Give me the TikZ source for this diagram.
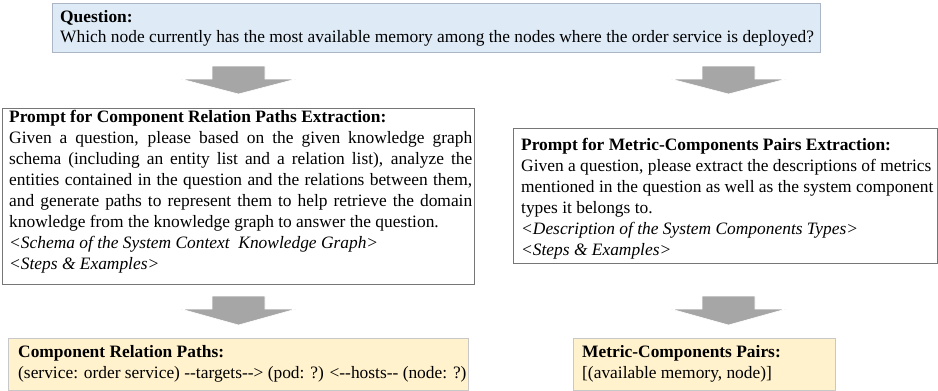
\documentclass[tikz,border=0pt]{standalone}
\usepackage{fontspec}
\setmainfont{Liberation Serif}
\definecolor{qfill}{RGB}{222,235,247}
\definecolor{qline}{RGB}{170,182,196}
\definecolor{afill}{RGB}{255,242,204}
\definecolor{aline}{RGB}{200,200,200}
\definecolor{pline}{RGB}{118,118,118}
\definecolor{arrowgray}{RGB}{166,166,166}
\begin{document}
\begin{tikzpicture}[x=1pt,y=-1pt,
  txt/.style={anchor=base west,inner sep=0pt,font=\fontsize{17.4}{21}\selectfont},
  qbox/.style={draw=qline,fill=qfill,line width=0.8pt},
  pbox/.style={draw=pline,fill=white,line width=0.8pt},
  abox/.style={draw=aline,fill=afill,line width=0.8pt},
  blockarrow/.style={fill=arrowgray,draw=white,line width=0.6pt}]
\useasboundingbox (0,0) rectangle (938,391);
% boxes
\draw[qbox] (52,3) rectangle (820,52);
\draw[pbox] (2,108) rectangle (474,284);
\draw[pbox] (513,128) rectangle (937,263);
\draw[abox] (8,338) rectangle (468,390);
\draw[abox] (573,338) rectangle (835,390);
% block arrows
\draw[blockarrow] (212,66) -- (265,66) -- (265,79) -- (296,79) -- (238.5,94) -- (181,79) -- (212,79) -- cycle;
\draw[blockarrow] (702,66) -- (755,66) -- (755,79) -- (786,79) -- (728.5,94) -- (671,79) -- (702,79) -- cycle;
\draw[blockarrow] (212,296) -- (265,296) -- (265,309) -- (296,309) -- (238.5,325) -- (181,309) -- (212,309) -- cycle;
\draw[blockarrow] (702,296) -- (755,296) -- (755,309) -- (786,309) -- (728.5,325) -- (671,309) -- (702,309) -- cycle;
% question
\node[txt] (q1) at (60,22.5) {\textbf{Question:}};
\node[txt] (q2) at (60,42.5) {Which node currently has the most available memory among the nodes where the order service is deployed?};
% left prompt
\node[txt] (l0) at (9,122) {\textbf{Prompt for Component Relation Paths Extraction:}};
\node[txt] (l1) at (9,143) {\makebox[463pt][s]{Given a question, please based on the given knowledge graph}};
\node[txt] (l2) at (9,164) {\makebox[463pt][s]{schema (including an entity list and a relation list), analyze the}};
\node[txt] (l3) at (9,185) {\makebox[463pt][s]{entities contained in the question and the relations between them,}};
\node[txt] (l4) at (9,206) {\makebox[463pt][s]{and generate paths to represent them to help retrieve the domain}};
\node[txt] (l5) at (9,227) {knowledge from the knowledge graph to answer the question.};
\node[txt] (l6) at (9,248) {\textit{<Schema of the System Context\ \ Knowledge Graph>}};
\node[txt] (l7) at (9,269) {\textit{<Steps \& Examples>}};
% right prompt
\node[txt] (r0) at (521,150) {\textbf{Prompt for Metric-Components Pairs Extraction:}};
\node[txt] (r1) at (521,171) {Given a question, please extract the descriptions of metrics};
\node[txt] (r2) at (521,192) {mentioned in the question as well as the system component};
\node[txt] (r3) at (521,213) {types it belongs to.};
\node[txt] (r4) at (521,234) {\textit{<Description of the System Components Types>}};
\node[txt] (r5) at (521,255) {\textit{<Steps \& Examples>}};
% answers
\node[txt] (a0) at (18,357) {\textbf{Component Relation Paths:}};
\node[txt] (a1) at (18,378) {(service: order service) -\kern0pt-targets-\kern0pt-> (pod: ?) <-\kern0pt-hosts-\kern0pt- (node: ?)};
\node[txt] (b0) at (582,357) {\textbf{Metric-Components Pairs:}};
\node[txt] (b1) at (582,378) {[(available memory, node)]};
\end{tikzpicture}
\end{document}
